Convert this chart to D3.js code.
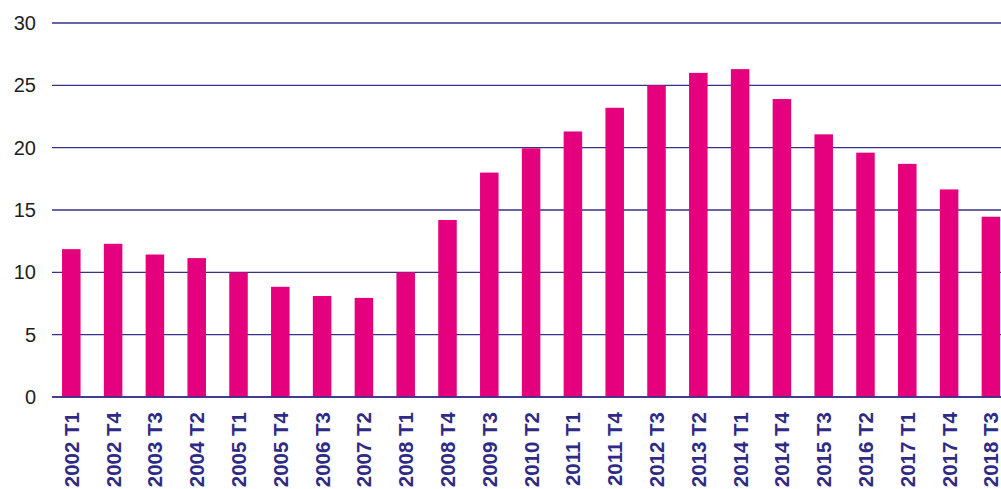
<!DOCTYPE html>
<html><head><meta charset="utf-8">
<script src="https://cdn.jsdelivr.net/npm/d3@7"></script>
<style>body{margin:0;background:#fff;overflow:hidden}svg{display:block}</style>
</head><body>
<svg id="c" width="1001" height="489"></svg>
<script>
const categories = ["2002 T1","2002 T4","2003 T3","2004 T2","2005 T1","2005 T4","2006 T3","2007 T2","2008 T1","2008 T4","2009 T3","2010 T2","2011 T1","2011 T4","2012 T3","2013 T2","2014 T1","2014 T4","2015 T3","2016 T2","2017 T1","2017 T4","2018 T3"];
const values = [11.86,12.29,11.43,11.14,10.0,8.84,8.1,7.95,10.0,14.2,18.0,19.95,21.3,23.2,25.0,26.0,26.3,23.9,21.07,19.6,18.7,16.65,14.46];
const yTicks = [0,5,10,15,20,25,30];

const svg = d3.select("#c");
const y = d3.scaleLinear().domain([0,30]).range([397,23]);
const x = d3.scaleBand().domain(categories).range([50.4,1011.8]).paddingInner(0.557).paddingOuter(0.2785);

const gridColor = "#35328a";
svg.append("g").selectAll("line").data(yTicks).join("line")
  .attr("x1",52).attr("x2",1001)
  .attr("y1",d=>y(d)).attr("y2",d=>y(d))
  .attr("stroke",gridColor).attr("stroke-width",1.4);

svg.append("g").selectAll("text").data(yTicks).join("text")
  .attr("x",36).attr("y",d=>y(d)+7)
  .attr("text-anchor","end")
  .attr("font-family","Liberation Sans, Arial, sans-serif")
  .attr("font-size",20).attr("fill","#1e1e1e")
  .text(d=>d);

svg.append("g").selectAll("rect").data(values).join("rect")
  .attr("x",(d,i)=>x(categories[i]))
  .attr("width",x.bandwidth())
  .attr("y",d=>y(d))
  .attr("height",d=>y(0)-y(d))
  .attr("fill","#e5007e");

svg.append("line").attr("x1",52).attr("x2",1001).attr("y1",y(0)).attr("y2",y(0))
  .attr("stroke",gridColor).attr("stroke-width",1.6);

svg.append("g").selectAll("text").data(categories).join("text")
  .attr("transform",d=>`translate(${x(d)+x.bandwidth()/2+7.5},412) rotate(-90)`)
  .attr("text-anchor","end")
  .attr("font-family","Liberation Sans, Arial, sans-serif")
  .attr("font-weight","bold")
  .attr("font-size",20.5).attr("fill","#2e2a86")
  .text(d=>d);
</script>
</body></html>
